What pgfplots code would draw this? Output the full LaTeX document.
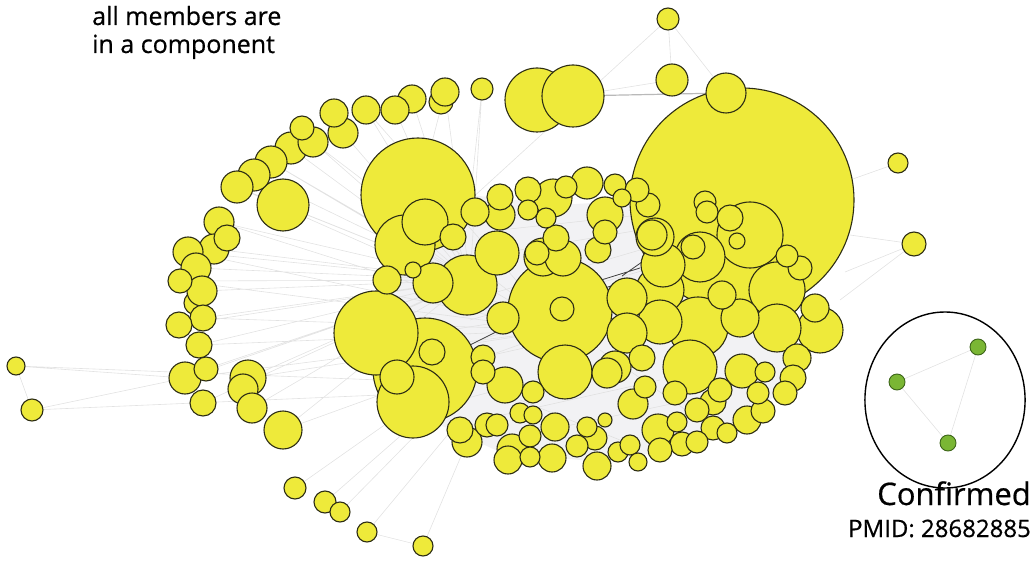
\documentclass[border=0pt]{standalone}
\usepackage{pgfplots}
\pgfplotsset{compat=1.18}
\usepackage{fontspec}
\setmainfont{Open Sans}[FakeBold=0.6]
\definecolor{nodey}{RGB}{238,234,58}
\definecolor{nodeline}{RGB}{45,45,20}
\definecolor{edgec}{RGB}{226,226,226}
\definecolor{edged}{RGB}{185,185,185}
\definecolor{hatch}{RGB}{242,242,244}
\definecolor{greenn}{RGB}{122,182,52}
\definecolor{greenl}{RGB}{60,100,25}
\begin{document}
\begin{tikzpicture}
\useasboundingbox (0,0) rectangle (1035pt,561pt);
\begin{axis}[
  scale only axis, width=1035pt, height=561pt,
  xmin=0, xmax=1035, ymin=0, ymax=561, y dir=reverse,
  hide axis, clip=false, unbounded coords=jump,
]
% dense edge background inside the core
\addplot[draw=none, fill=hatch] coordinates {(380,245) (470,195) (560,205) (640,200) (660,280) (760,300) (800,380) (700,445) (600,462) (500,452) (440,425) (395,380) (380,245)};
\addplot[white!75!gray, line width=0.5pt] coordinates {
(470,300) (640,250) (nan,nan) (470,320) (645,270) (nan,nan) (480,340) (650,285) (nan,nan)
(450,330) (640,300) (nan,nan) (460,400) (650,350) (nan,nan) (480,420) (660,380) (nan,nan)
(500,440) (690,400) (nan,nan) (520,250) (640,230) (nan,nan) (500,230) (640,215) (nan,nan)
(470,360) (560,340) (nan,nan) (600,350) (700,420) (nan,nan) (520,400) (620,440)};
% edges
\addplot[edgec, line width=0.6pt] table {
x y
237 187
470 280
nan nan
254 175
470 280
nan nan
271 162
470 280
nan nan
291 148
470 280
nan nan
313 142
470 280
nan nan
343 133
470 280
nan nan
366 110
470 280
nan nan
395 110
470 280
nan nan
412 99
470 280
nan nan
445 92
470 280
nan nan
482 89
470 280
nan nan
219 222
470 280
nan nan
214 249
470 280
nan nan
188 252
470 280
nan nan
196 268
470 280
nan nan
180 281
470 280
nan nan
202 291
470 280
nan nan
203 318
470 280
nan nan
179 325
470 280
nan nan
199 345
470 280
nan nan
206 369
470 280
nan nan
185 378
470 280
nan nan
203 403
470 280
nan nan
248 378
470 280
nan nan
252 408
470 280
nan nan
283 430
470 280
nan nan
283 205
470 280
nan nan
237 187
560 330
nan nan
271 162
560 330
nan nan
313 142
560 330
nan nan
366 110
560 330
nan nan
219 222
560 330
nan nan
188 252
560 330
nan nan
180 281
560 330
nan nan
203 318
560 330
nan nan
199 345
560 330
nan nan
185 378
560 330
nan nan
248 378
560 330
nan nan
283 430
560 330
nan nan
16 366
185 378
nan nan
16 366
32 410
nan nan
32 410
185 378
nan nan
32 410
380 395
nan nan
16 366
380 380
nan nan
668 19
672 80
nan nan
668 19
726 93
nan nan
668 19
470 200
nan nan
672 80
573 96
nan nan
726 93
640 165
nan nan
482 89
470 200
nan nan
445 92
430 150
nan nan
898 163
850 180
nan nan
914 244
850 235
nan nan
914 244
845 272
nan nan
914 244
840 300
nan nan
295 488
420 400
nan nan
325 502
430 410
nan nan
340 512
450 400
nan nan
367 532
460 420
nan nan
423 546
470 435
nan nan
367 532
423 546
nan nan
897 382
978 347
nan nan
897 382
948 443
nan nan
978 347
948 443
};
\addplot[edged, line width=1.2pt] coordinates {(573,96) (726,93)};
\addplot[black!75, line width=0.8pt] coordinates {(598,281) (640,268) (nan,nan) (622,276) (642,262) (nan,nan) (605,288) (628,280) (nan,nan) (470,345) (500,330)};
% nodes
\addplot[scatter, only marks, mark=*,
  scatter/use mapped color={draw=nodeline, fill=nodey},
  mark options={line width=1.1pt},
  visualization depends on={\thisrow{r}\as\rad},
  scatter/@pre marker code/.append style={/tikz/mark size=\rad},
] table[x=x, y=y, meta=r] {
x y r
742 200 112
418 195 57
425 370 52
560 310 52
376 333 42
413 402 36
750 235 33
537 100 32
573 96 31
405 245 30
467 285 30
698 327 30
777 290 28
565 372 27
690 367 27
283 205 26
700 257 25
820 330 23
777 328 24
660 290 24
425 222 23
497 253 22
663 265 22
660 322 22
433 283 20
627 298 20
627 333 20
726 93 20
283 430 19
553 198 19
740 318 19
543 257 19
655 237 19
652 235 15
563 258 18
605 215 18
248 378 18
505 385 18
397 377 17
742 371 17
587 183 16
672 80 16
503 318 16
185 378 16
291 148 16
271 162 16
254 175 16
237 187 16
615 367 16
658 430 16
343 133 15
313 142 15
219 222 15
214 249 15
188 252 15
196 268 15
196 303 12
202 291 15
243 389 15
252 408 15
467 442 15
512 449 15
607 373 15
633 404 15
500 215 15
441 102 12
445 92 14
412 99 14
395 110 14
366 110 14
334 113 14
475 212 14
387 280 14
722 295 14
815 308 14
797 358 14
555 427 14
552 458 14
508 460 14
597 466 14
747 420 14
642 358 13
500 197 13
528 190 13
453 237 13
556 238 13
598 250 13
730 218 13
203 318 13
179 325 13
199 345 13
203 403 13
227 238 13
432 352 13
793 378 13
713 402 13
460 430 13
487 425 12
648 205 12
693 247 12
705 202 11
707 212 11
537 253 12
605 232 12
562 309 12
483 357 12
483 372 12
595 438 12
682 444 12
660 450 12
675 393 12
697 410 12
713 428 12
720 390 12
785 393 12
763 411 12
800 268 12
787 256 11
180 281 12
206 369 12
302 128 12
637 190 12
482 89 11
668 19 11
566 187 11
615 185 11
533 392 11
497 425 11
520 413 10
533 415 9
530 436 11
530 457 10
577 446 11
587 427 10
645 387 11
677 422 10
697 442 11
727 433 10
758 393 11
765 372 10
32 410 11
295 488 11
325 502 11
618 452 10
630 445 10
638 462 9
546 218 10
528 210 10
340 512 10
367 532 10
423 546 10
898 163 10
914 244 12
16 366 9
622 198 9
413 270 8
737 241 8
605 420 7
};
% confirmed group
\addplot[only marks, mark=o, mark size=88, mark options={xscale=0.91, line width=1.4pt, draw=black}] coordinates {(945,400)};
\addplot[only marks, mark=*, mark size=8, mark options={fill=greenn, draw=greenl, line width=0.9pt}] coordinates {(897,382) (978,347) (948,443)};
\node[anchor=base west, inner sep=0pt, font=\fontsize{25}{28}\selectfont] at (axis cs:92,25) {all members are};
\node[anchor=base west, inner sep=0pt, font=\fontsize{25}{28}\selectfont] at (axis cs:92,53) {in a component};
\node[anchor=base east, inner sep=0pt, font=\fontsize{31}{36}\selectfont] at (axis cs:1031,505) {Confirmed};
\node[anchor=base east, inner sep=0pt, font=\fontsize{24}{28}\selectfont] at (axis cs:1031,537) {PMID: 28682885};
\end{axis}
\end{tikzpicture}
\end{document}
